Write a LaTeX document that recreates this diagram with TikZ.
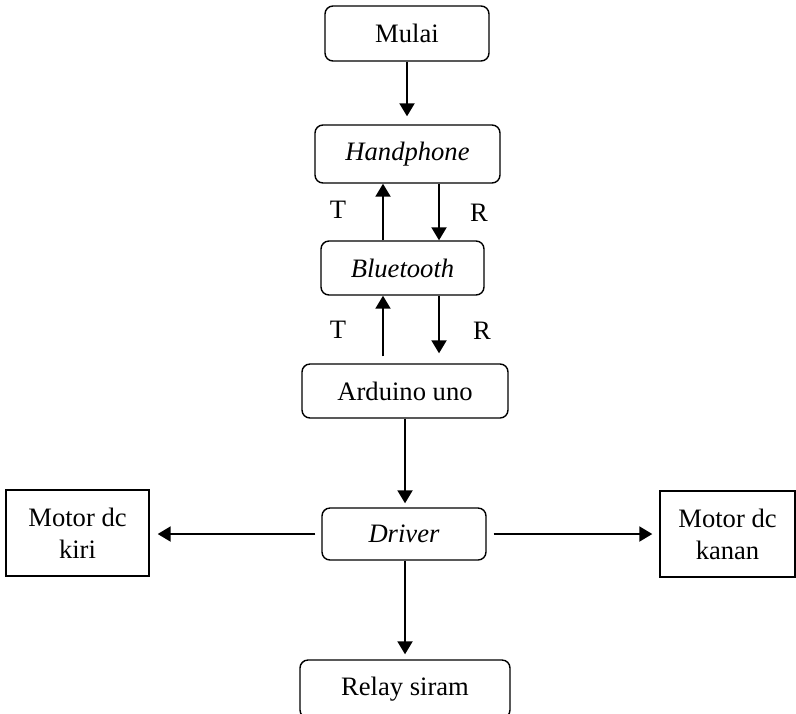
\documentclass[tikz,border=0pt]{standalone}
\usepackage{fontspec}
\setmainfont{Liberation Serif}
\usetikzlibrary{arrows.meta}

\begin{document}
\begin{tikzpicture}[x=.5pt,y=-.5pt,font=\fontsize{13.3}{16}\selectfont,
    blok/.style={draw,line width=.7pt,rounded corners=4pt,inner sep=0pt,align=center},
    kotak/.style={draw,line width=.7pt,inner sep=0pt,align=center},
    arr/.style={line width=1pt,-{Triangle[length=6.5pt,width=7.5pt]}}]
\useasboundingbox (0,0) rectangle (796,713);
\node[blok,minimum width=82pt,minimum height=27.5pt](mulai) at (407,33.5){Mulai};
\node[blok,minimum width=92.5pt,minimum height=29pt](hp) at (407.5,154){\textit{Handphone}};
\node[blok,minimum width=81.5pt,minimum height=27pt](bt) at (402.5,268){\textit{Bluetooth}};
\node[blok,minimum width=103pt,minimum height=27pt](ard) at (405,391){Arduino uno};
\node[blok,minimum width=82pt,minimum height=26pt](drv) at (404,534){\textit{Driver}};
\node[kotak,minimum width=71.5pt,minimum height=43pt](kiri) at (77.5,533){Motor dc\\kiri};
\node[kotak,minimum width=67.5pt,minimum height=43pt](kanan) at (727.5,534){Motor dc\\kanan};
\node[blok,minimum width=105pt,minimum height=29pt](relay) at (405,689){Relay siram};
\coordinate (tx) at (383,0);
\coordinate (rx) at (439,0);
\node (tA) at (338,210){T};
\node (rA) at (479,213){R};
\node (tB) at (338,330){T};
\node (rB) at (482,331){R};
% panah
\draw[arr,shorten >=4pt](mulai)--(mulai |- hp.north);
\draw[arr](bt.north -| tx)--(hp.south -| tx);
\draw[arr](hp.south -| rx)--(bt.north -| rx);
\draw[arr,shorten <=3.5pt](ard.north -| tx)--(bt.south -| tx);
\draw[arr,shorten >=5pt](bt.south -| rx)--(ard.north -| rx);
\draw[arr,shorten >=2pt](ard)--(ard |- drv.north);
\draw[arr,shorten <=3pt,shorten >=4pt](drv)--(kiri.east |- drv);
\draw[arr,shorten <=3.5pt,shorten >=3.5pt](drv)--(kanan.west |- drv);
\draw[arr,shorten >=2.5pt](drv.south -| relay)--(relay);
\end{tikzpicture}
\end{document}
